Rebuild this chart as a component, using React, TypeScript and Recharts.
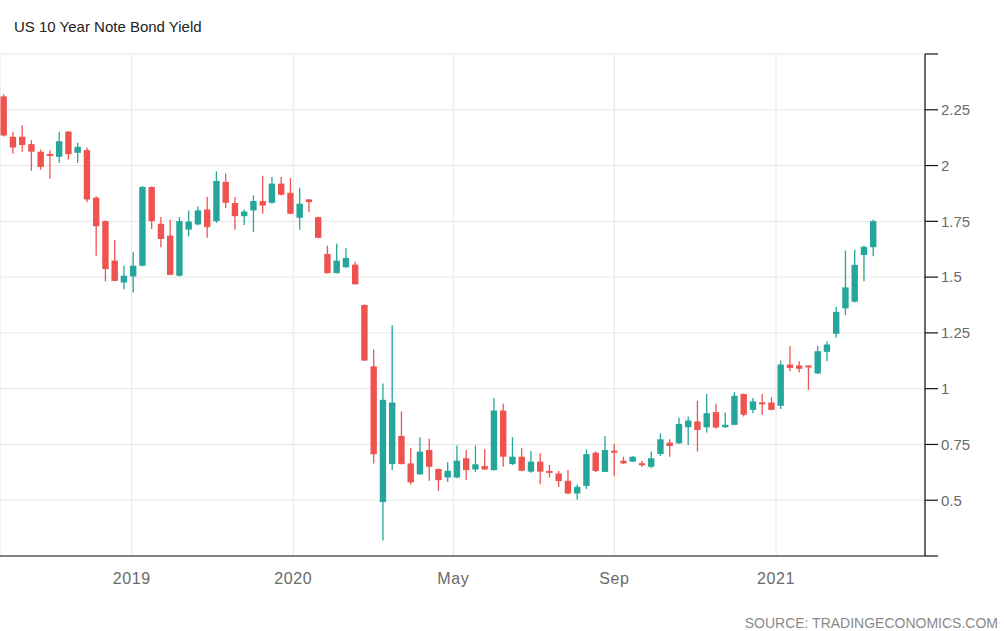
import React from 'react';
import { ComposedChart, Bar, XAxis, YAxis, CartesianGrid } from 'recharts';

// weekly candles
const opens = [
  2.31, 2.129, 2.129, 2.096, 2.062, 2.05, 2.039, 2.152, 2.057, 2.069,
  1.856, 1.751, 1.574, 1.476, 1.503, 1.551, 1.904, 1.739, 1.686, 1.506,
  1.713, 1.736, 1.803, 1.751, 1.927, 1.832, 1.773, 1.799, 1.841, 1.833,
  1.919, 1.878, 1.766, 1.848, 1.769, 1.604, 1.518, 1.544, 1.556, 1.375,
  1.1, 0.492, 0.662, 0.788, 0.665, 0.616, 0.725, 0.64, 0.602, 0.602,
  0.688, 0.638, 0.653, 0.635, 0.902, 0.662, 0.695, 0.628, 0.673, 0.631,
  0.62, 0.587, 0.53, 0.564, 0.713, 0.627, 0.72, 0.677, 0.673, 0.665,
  0.65, 0.707, 0.758, 0.755, 0.827, 0.853, 0.827, 0.895, 0.827, 0.838,
  0.976, 0.905, 0.938, 0.938, 0.923, 1.108, 1.104, 1.101, 1.068, 1.165,
  1.246, 1.36, 1.39, 1.599, 1.634,
];
const highs = [
  2.32, 2.152, 2.181, 2.114, 2.072, 2.069, 2.152, 2.155, 2.102, 2.081,
  1.862, 1.755, 1.667, 1.551, 1.611, 1.908, 1.906, 1.769, 1.757, 1.769,
  1.799, 1.817, 1.859, 1.974, 1.964, 1.859, 1.803, 1.866, 1.954, 1.949,
  1.949, 1.944, 1.901, 1.85, 1.771, 1.641, 1.649, 1.629, 1.569, 1.377,
  1.176, 1.023, 1.285, 0.898, 0.733, 0.782, 0.775, 0.642, 0.67, 0.745,
  0.725, 0.745, 0.728, 0.958, 0.932, 0.782, 0.733, 0.721, 0.71, 0.658,
  0.631, 0.635, 0.571, 0.728, 0.718, 0.788, 0.752, 0.695, 0.697, 0.677,
  0.718, 0.8, 0.773, 0.871, 0.875, 0.946, 0.976, 0.932, 0.893, 0.985,
  0.978, 0.958, 0.976, 0.962, 1.126, 1.191, 1.123, 1.103, 1.191, 1.213,
  1.366, 1.618, 1.623, 1.641, 1.757,
];
const lows = [
  2.13, 2.054, 2.062, 1.976, 1.982, 1.941, 2.013, 2.027, 2.013, 1.836,
  1.596, 1.481, 1.481, 1.446, 1.431, 1.548, 1.716, 1.634, 1.508, 1.503,
  1.682, 1.733, 1.676, 1.743, 1.809, 1.712, 1.734, 1.701, 1.784, 1.83,
  1.866, 1.782, 1.712, 1.791, 1.674, 1.516, 1.516, 1.542, 1.466, 1.124,
  0.665, 0.32, 0.635, 0.66, 0.571, 0.614, 0.587, 0.542, 0.582, 0.598,
  0.59, 0.627, 0.636, 0.633, 0.65, 0.658, 0.63, 0.623, 0.572, 0.602,
  0.56, 0.527, 0.503, 0.55, 0.627, 0.625, 0.608, 0.663, 0.671, 0.65,
  0.643, 0.698, 0.695, 0.753, 0.748, 0.718, 0.803, 0.82, 0.825, 0.836,
  0.875, 0.89, 0.883, 0.903, 0.909, 1.078, 1.073, 0.995, 1.066, 1.123,
  1.228, 1.33, 1.386, 1.481, 1.593,
];
const closes = [
  2.135, 2.081, 2.092, 2.062, 1.994, 2.045, 2.109, 2.051, 2.084, 1.848,
  1.728, 1.536, 1.483, 1.506, 1.551, 1.904, 1.751, 1.671, 1.51, 1.751,
  1.749, 1.799, 1.724, 1.931, 1.833, 1.773, 1.794, 1.841, 1.821, 1.919,
  1.869, 1.784, 1.829, 1.836, 1.676, 1.518, 1.574, 1.586, 1.468, 1.126,
  0.706, 0.95, 0.938, 0.662, 0.58, 0.718, 0.65, 0.59, 0.632, 0.677,
  0.635, 0.661, 0.638, 0.902, 0.695, 0.695, 0.632, 0.673, 0.628, 0.623,
  0.586, 0.53, 0.56, 0.707, 0.631, 0.725, 0.715, 0.665, 0.695, 0.658,
  0.688, 0.773, 0.743, 0.842, 0.857, 0.815, 0.89, 0.826, 0.838, 0.968,
  0.883, 0.943, 0.931, 0.905, 1.108, 1.093, 1.089, 1.098, 1.168, 1.198,
  1.344, 1.454, 1.555, 1.636, 1.751,
];

// x-axis labels and where they fall, in candle-index units
const xTickLabels = ['2019', '2020', 'May', 'Sep', '2021'];
const xTickPositions = [13.88, 31.35, 48.65, 66.05, 83.54];
const yTicks = [0.25, 0.5, 0.75, 1, 1.25, 1.5, 1.75, 2, 2.25, 2.5];

const UP = '#26a69a';
const DOWN = '#ef5350';

const data = opens.map((o, i) => ({
  i,
  open: o,
  high: highs[i],
  low: lows[i],
  close: closes[i],
}));

const Candle = (props: any) => {
  const { x, y, width, height, payload } = props;
  if (!payload || height == null) return null;
  const { open, high, low, close } = payload;
  const ppu = height / (high - low);
  const cx = x + width / 2;
  const yOpen = y + (high - open) * ppu;
  const yClose = y + (high - close) * ppu;
  const color = close >= open ? UP : DOWN;
  let top = Math.min(yOpen, yClose);
  let h = Math.abs(yOpen - yClose);
  if (h < 2) {
    top = top - (2 - h) / 2;
    h = 2;
  }
  return (
    <g>
      <line x1={cx} x2={cx} y1={y} y2={y + height} stroke={color} strokeWidth={1.3} />
      <rect x={cx - 3.2} y={top} width={6.4} height={h} fill={color} />
    </g>
  );
};

const App = () => {
  return (
    <div
      style={{
        position: 'absolute',
        left: 0,
        top: 0,
        width: 1004,
        height: 631,
        background: '#fff',
        fontFamily: '"Liberation Sans", Arial, sans-serif',
      }}
    >
      <div style={{ position: 'absolute', left: 14, top: 18, fontSize: 15, color: '#222' }}>
        US 10 Year Note Bond Yield
      </div>
      <ComposedChart
        width={1004}
        height={631}
        data={data}
        margin={{ top: 54, right: 0, bottom: 0, left: 0 }}
      >
        <CartesianGrid stroke="#e6e6e6" strokeWidth={1} />
        <XAxis
          dataKey="i"
          type="number"
          domain={[-0.357, 99.64]}
          ticks={xTickPositions}
          interval={0}
          tickFormatter={(v: number) => xTickLabels[xTickPositions.indexOf(v)] ?? ''}
          tickLine={false}
          tickMargin={11}
          height={75}
          axisLine={{ stroke: '#111', strokeWidth: 1.2 }}
          tick={{ fill: '#6b6b6b', fontSize: 16, letterSpacing: 0.6 }}
        />
        <YAxis
          orientation="right"
          type="number"
          domain={[0.25, 2.5]}
          ticks={yTicks}
          interval={0}
          width={79}
          tickSize={13}
          tickMargin={3}
          tickFormatter={(v: number) => (v === 0.25 || v === 2.5 ? '' : String(v))}
          axisLine={{ stroke: '#111', strokeWidth: 1.2 }}
          tickLine={{ stroke: '#111', strokeWidth: 1.2 }}
          tick={{ fill: '#6b6b6b', fontSize: 15, textAnchor: 'start' }}
        />
        <Bar
          dataKey={(d: any) => [d.low, d.high]}
          barSize={6}
          shape={(p: any) => <Candle {...p} />}
          isAnimationActive={false}
        />
      </ComposedChart>
      <div
        style={{
          position: 'absolute',
          right: 6,
          top: 615,
          fontSize: 14,
          color: '#8a8a8a',
        }}
      >
        SOURCE: TRADINGECONOMICS.COM
      </div>
    </div>
  );
};

export default App;
